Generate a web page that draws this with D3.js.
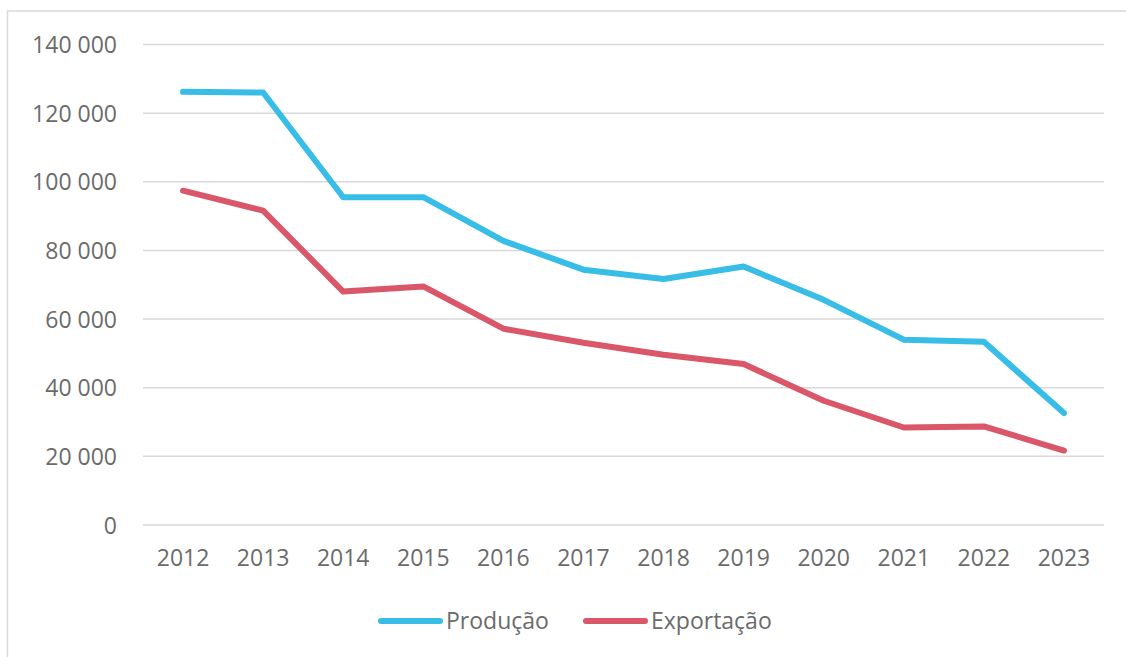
<!DOCTYPE html>
<html>
<head>
<meta charset="utf-8">
<script src="https://cdn.jsdelivr.net/npm/d3@7"></script>
<style>
  body { margin: 0; background: #fff; }
  svg text { font-family: "Open Sans", "Noto Sans", sans-serif; fill: #6b6b6b; }
</style>
</head>
<body>
<svg id="chart" width="1126" height="657"></svg>
<script>
var years = ["2012", "2013", "2014", "2015", "2016", "2017", "2018", "2019", "2020", "2021", "2022", "2023"];
var producao = [126200, 126000, 95500, 95500, 82800, 74400, 71700, 75300, 65600, 54000, 53400, 32600];
var exportacao = [97400, 91600, 68000, 69500, 57200, 53100, 49600, 46900, 36200, 28400, 28700, 21700];
var yTicks = [0, 20000, 40000, 60000, 80000, 100000, 120000, 140000];
var seriesNames = ["Produção", "Exportação"];
var seriesColors = ["#38bde6", "#da5669"];

var svg = d3.select("#chart");

// outer frame of the chart area
svg.append("rect")
  .attr("x", 7.5).attr("y", 11)
  .attr("width", 1140).attr("height", 700)
  .attr("fill", "none")
  .attr("stroke", "#d9d9d9")
  .attr("stroke-width", 1.5);

var x = d3.scaleBand().domain(years).range([143, 1104]);
var y = d3.scaleLinear().domain([0, 140000]).range([525, 44.5]);

var fmt = function(d) { return d3.format(",")(d).replace(/,/g, " "); };

// gridlines
svg.append("g")
  .selectAll("line")
  .data(yTicks)
  .enter()
  .append("line")
  .attr("x1", 143).attr("x2", 1104)
  .attr("y1", function(d) { return y(d); })
  .attr("y2", function(d) { return y(d); })
  .attr("stroke", "#d9d9d9")
  .attr("stroke-width", 1.5);

// y axis labels
var yAxis = svg.append("g")
  .attr("transform", "translate(117,0)")
  .call(d3.axisLeft(y).tickValues(yTicks).tickFormat(fmt).tickSize(0).tickPadding(0));
yAxis.select(".domain").remove();
yAxis.selectAll("text")
  .attr("font-size", "23px")
  .attr("dy", "0.35em")
  .attr("fill", "#6b6b6b");

// x axis labels
var xAxis = svg.append("g")
  .attr("transform", "translate(0,525)")
  .call(d3.axisBottom(x).tickSize(0).tickPadding(25));
xAxis.select(".domain").remove();
xAxis.selectAll("text")
  .attr("font-size", "23px")
  .attr("fill", "#6b6b6b");

var line = d3.line()
  .x(function(d, i) { return x(years[i]) + x.bandwidth() / 2; })
  .y(function(d) { return y(d); });

[producao, exportacao].forEach(function(s, i) {
  svg.append("path")
    .datum(s)
    .attr("d", line)
    .attr("fill", "none")
    .attr("stroke", seriesColors[i])
    .attr("stroke-width", 6)
    .attr("stroke-linejoin", "round")
    .attr("stroke-linecap", "round");
});

// legend
var legendX = [381, 586];
seriesNames.forEach(function(name, i) {
  var g = svg.append("g").attr("transform", "translate(" + legendX[i] + ",621)");
  g.append("line")
    .attr("x1", 0).attr("x2", 59)
    .attr("y1", 0).attr("y2", 0)
    .attr("stroke", seriesColors[i])
    .attr("stroke-width", 6)
    .attr("stroke-linecap", "round");
  g.append("text")
    .attr("x", 65).attr("y", 0)
    .attr("dy", "0.35em")
    .attr("font-size", "23px")
    .text(name);
});
</script>
</body>
</html>
